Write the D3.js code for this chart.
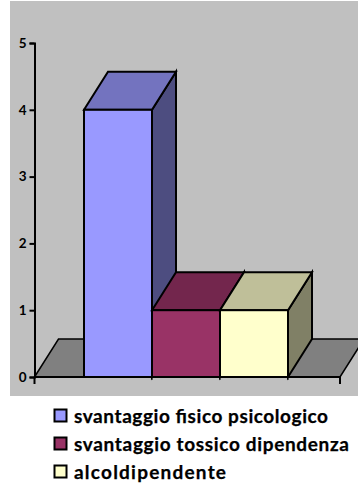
<!DOCTYPE html>
<html><head><meta charset="utf-8">
<script src="https://cdn.jsdelivr.net/npm/d3@7/dist/d3.min.js"></script>
<style>html,body{margin:0;padding:0;background:#fff}svg{display:block}
text{font-family:Lato,"Open Sans",sans-serif;font-weight:700;fill:#000}</style>
</head><body><div id="c"></div>
<script>
const seriesNames=["svantaggio fisico psicologico","svantaggio tossico dipendenza","alcoldipendente"];
const seriesValues=[4,1,1];
const faceColors=["#9999ff","#993366","#ffffcc"];
const topColors=["#7373bf","#73264d","#bfbf99"];
const sideColors=["#4d4d80","#4d1a33","#808066"];
const yTicks=[0,1,2,3,4,5];

const W=358,H=486,dx=24,dy=-38;
const svg=d3.select("#c").append("svg").attr("width",W).attr("height",H);
const y=d3.scaleLinear().domain([0,5]).range([377,43]);
const x=d3.scaleBand().domain(d3.range(seriesNames.length)).range([84,288]).padding(0);
const line=d3.line();

svg.append("rect").attr("x",10).attr("y",1).attr("width",W-10).attr("height",395).attr("fill","#c0c0c0");

// floor
const fl=34.5,fr=340;
svg.append("path").attr("d",line([[fl,y(0)],[fl+dx,y(0)+dy],[fr+dx,y(0)+dy],[fr,y(0)]])+"Z")
  .attr("fill","#808080").attr("stroke","#000").attr("stroke-width",1.5);

// axes
const yAxis=d3.axisLeft(y).tickValues(yTicks).tickFormat(d3.format("d")).tickSize(5).tickPadding(3);
const ga=svg.append("g").attr("transform",`translate(${fl},0)`).call(yAxis);
ga.selectAll("path,line").attr("stroke","#000").attr("stroke-width",2);
ga.selectAll("text").style("font-size","13.5px");

// bars
seriesValues.forEach((v,i)=>{
  const x0=x(i),x1=x0+x.bandwidth(),yt=y(v),yb=y(0);
  const g=svg.append("g").attr("stroke","#000").attr("stroke-width",2).attr("stroke-linejoin","miter");
  g.append("path").attr("d",line([[x1,yb],[x1+dx,yb+dy],[x1+dx,yt+dy],[x1,yt]])+"Z").attr("fill",sideColors[i]);
  g.append("path").attr("d",line([[x0,yt],[x0+dx,yt+dy],[x1+dx,yt+dy],[x1,yt]])+"Z").attr("fill",topColors[i]);
  g.append("rect").attr("x",x0).attr("y",yt).attr("width",x1-x0).attr("height",yb-yt).attr("fill",faceColors[i]);
});

// x axis baseline with ticks
const xt=[fl,...x.domain().map(i=>x(i)+x.bandwidth()),fr];
svg.append("path").attr("d",line([[fl,y(0)],[fr,y(0)]])).attr("stroke","#000").attr("stroke-width",2).attr("fill","none");
svg.selectAll(".xt").data(xt).enter().append("line").attr("x1",d=>d).attr("x2",d=>d)
  .attr("y1",y(0)).attr("y2",(d,i)=>y(0)+(i==0||i==xt.length-1?7:3)).attr("stroke","#000").attr("stroke-width",(d,i)=>(i==0||i==xt.length-1?2:1));

// legend
const ly=d3.scalePoint().domain(seriesNames).range([416,472]);
const lg=svg.selectAll(".lg").data(seriesNames).enter().append("g").attr("transform",d=>`translate(0,${ly(d)})`);
lg.append("rect").attr("x",54.5).attr("y",-6.5).attr("width",12).attr("height",12)
  .attr("fill",(d,i)=>faceColors[i]).attr("stroke","#000").attr("stroke-width",2);
lg.append("text").attr("x",74).attr("y",7).attr("textLength",(d,i)=>[254,275,152][i]).attr("lengthAdjust","spacing")
  .style("font-size","19px").style("stroke","#000").style("stroke-width","0.25px").text(d=>d);
</script></body></html>
